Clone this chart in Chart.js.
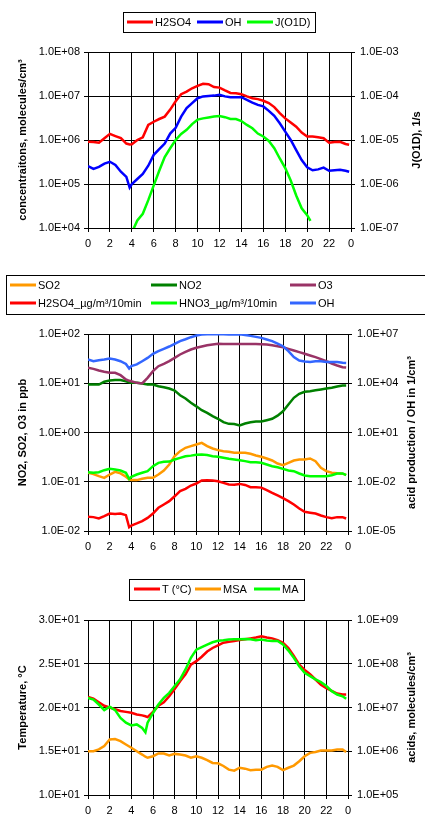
<!DOCTYPE html>
<html>
<head>
<meta charset="utf-8">
<script src="https://cdn.jsdelivr.net/npm/chart.js@4.4.1/dist/chart.umd.min.js"></script>
<style>
  html, body { margin: 0; padding: 0; background: #fff; }
  body { width: 425px; height: 816px; position: relative; overflow: hidden; }
  .panel { position: absolute; left: 0; width: 425px; }
</style>
</head>
<body>
<div class="panel" style="top:0;height:258px"><canvas id="c1"></canvas></div>
<div class="panel" style="top:262px;height:298px"><canvas id="c2"></canvas></div>
<div class="panel" style="top:565px;height:251px"><canvas id="c3"></canvas></div>
<script>
// time of day (hours), 30 min steps plus a few extra points
const hoursA = [0, 0.5, 1, 1.5, 2, 2.5, 3, 3.5, 3.8, 4,
  4.5, 5, 5.5, 6, 6.5, 7, 7.5, 8, 8.5, 9,
  9.5, 10, 10.5, 11, 11.5, 12, 12.5, 13, 13.5, 14,
  14.5, 15, 15.5, 16, 16.5, 17, 17.5, 18, 18.5, 19,
  19.5, 20, 20.5, 21, 21.5, 22, 22.5, 23, 23.5, 23.83];
const hoursB = [0, 0.5, 1, 1.5, 2, 2.5, 3, 3.5, 4, 4.5,
  5, 5.3, 5.5, 6, 6.5, 7, 7.5, 8, 8.5, 9,
  9.5, 10, 10.5, 11, 11.5, 12, 12.5, 13, 13.5, 14,
  14.5, 15, 15.5, 16, 16.5, 17, 17.5, 18, 18.5, 19,
  19.5, 20, 20.5, 21, 21.5, 22, 22.5, 23, 23.5, 23.83];
const jHours = [4.15, 4.5, 5, 5.5, 6, 6.5, 7, 7.5, 8, 8.5,
  9, 9.5, 10, 10.5, 11, 11.5, 12, 12.5, 13, 13.5,
  14, 14.5, 15, 15.5, 16, 16.5, 17, 17.5, 18, 18.5,
  19, 19.5, 20, 20.3];
const hourLabels = ['0', '2', '4', '6', '8', '10', '12', '14', '16', '18', '20', '22', '0'];

// top chart: molecules/cm3 and J(O1D) in 1/s
const p1H2SO4 = [9.1e5, 9.0e5, 8.7e5, 1.1e6, 1.38e6, 1.23e6, 1.1e6, 8.3e5, 7.9e5, 8.0e5,
  1.0e6, 1.15e6, 2.2e6, 2.6e6, 3.0e6, 3.4e6, 4.9e6, 7.6e6, 1.1e7, 1.26e7,
  1.5e7, 1.7e7, 1.9e7, 1.85e7, 1.6e7, 1.55e7, 1.34e7, 1.17e7, 1.15e7, 1.1e7,
  9.8e6, 8.9e6, 8.5e6, 7.8e6, 6.9e6, 5.6e6, 4.1e6, 3.1e6, 2.5e6, 2.0e6,
  1.47e6, 1.2e6, 1.2e6, 1.15e6, 1.1e6, 8.7e5, 9.0e5, 9.1e5, 8.1e5, 7.8e5];
const p1OH = [2.55e5, 2.2e5, 2.45e5, 2.9e5, 3.2e5, 2.7e5, 1.9e5, 1.45e5, 8.3e4, 1.0e5,
  1.3e5, 1.7e5, 2.6e5, 4.6e5, 6.2e5, 8.3e5, 1.4e6, 1.9e6, 3.4e6, 5.3e6,
  6.9e6, 8.9e6, 9.8e6, 1.0e7, 1.02e7, 1.07e7, 9.8e6, 9.4e6, 9.4e6, 9.4e6,
  8.2e6, 7.1e6, 6.3e6, 5.8e6, 4.6e6, 3.55e6, 2.4e6, 1.55e6, 1.0e6, 5.9e5,
  3.5e5, 2.4e5, 2.05e5, 2.15e5, 2.35e5, 2.0e5, 2.05e5, 2.1e5, 2.0e5, 1.9e5];
const p1JO1D = [9.5e-8, 1.48e-7, 2.1e-7, 4.3e-7, 9.3e-7, 2.0e-6, 4.1e-6, 6.5e-6, 1.0e-5, 1.37e-5,
  1.7e-5, 2.3e-5, 2.9e-5, 3.1e-5, 3.25e-5, 3.4e-5, 3.5e-5, 3.3e-5, 3.0e-5, 3.0e-5,
  2.7e-5, 2.2e-5, 1.85e-5, 1.4e-5, 1.2e-5, 9.5e-6, 6.5e-6, 3.8e-6, 2.3e-6, 1.2e-6,
  5.5e-7, 2.8e-7, 1.95e-7, 1.45e-7];

// middle chart: trace gases in ppb, acid production and OH in 1/cm3
const p2SO2 = [0.152, 0.143, 0.130, 0.120, 0.140, 0.159, 0.148, 0.126, 0.112, 0.108,
  0.108, 0.115, 0.120, 0.120, 0.140, 0.169, 0.224, 0.331, 0.418, 0.489,
  0.528, 0.571, 0.617, 0.528, 0.473, 0.438, 0.418, 0.405, 0.387, 0.387,
  0.387, 0.369, 0.341, 0.321, 0.297, 0.270, 0.235, 0.217, 0.242, 0.270,
  0.283, 0.283, 0.297, 0.262, 0.192, 0.164, 0.152, 0.148, 0.146, 0.138];
const p2NO2 = [9.4, 9.4, 9.4, 10.7, 11.4, 11.6, 11.6, 11.0, 10.5, 10.2,
  10.2, 9.9, 9.4, 9.4, 8.7, 8.3, 7.8, 7.1, 5.7, 4.9,
  4.0, 3.4, 2.84, 2.5, 2.15, 1.9, 1.62, 1.5, 1.48, 1.39,
  1.52, 1.62, 1.67, 1.67, 1.78, 1.9, 2.2, 2.7, 3.7, 5.06,
  6.1, 6.7, 6.9, 7.2, 7.5, 7.8, 8.1, 8.6, 9.0, 9.0];
const p2O3 = [20.6, 19.6, 18.1, 17.1, 16.3, 16.3, 14.6, 11.9, 11.2, 11.0,
  10.2, 9.9, 12.9, 17.6, 22.2, 24.8, 28.1, 32.8, 38.4, 43.4,
  48.4, 52.4, 55.8, 59.3, 61.2, 63.1, 63.0, 63.0, 63.0, 63.0,
  63.0, 63.0, 63.0, 62.0, 61.0, 59.0, 56.6, 54.0, 50.0, 46.2,
  42.8, 39.6, 36.6, 33.9, 30.8, 28.1, 25.2, 22.9, 21.2, 20.9];
const p2H2SO4 = [7.3e-5, 7.0e-5, 5.8e-5, 8.0e-5, 1.16e-4, 1.1e-4, 1.16e-4, 9.2e-5, 1.7e-5, 2.16e-5,
  2.9e-5, 4.0e-5, 6.3e-5, 1.16e-4, 2.6e-4, 4.1e-4, 6.6e-4, 1.3e-3, 2.7e-3, 3.7e-3,
  5.9e-3, 7.8e-3, 0.0119, 0.0125, 0.0119, 0.0108, 8.6e-3, 6.8e-3, 6.6e-3, 7.4e-3,
  6.4e-3, 4.7e-3, 4.7e-3, 4.4e-3, 3.1e-3, 2.1e-3, 1.46e-3, 1.0e-3, 6.6e-4, 4.1e-4,
  2.35e-4, 1.47e-4, 1.3e-4, 1.16e-4, 8.8e-5, 7.0e-5, 6.0e-5, 7.0e-5, 7.0e-5, 5.8e-5];
const p2HNO3 = [0.0384, 0.0349, 0.0384, 0.0507, 0.0612, 0.056, 0.048, 0.035, 0.015, 0.02,
  0.0277, 0.035, 0.044, 0.089, 0.142, 0.163, 0.17, 0.227, 0.286, 0.361,
  0.39, 0.436, 0.45, 0.42, 0.361, 0.33, 0.286, 0.249, 0.227, 0.206,
  0.18, 0.156, 0.156, 0.142, 0.112, 0.089, 0.077, 0.061, 0.048, 0.044,
  0.0318, 0.024, 0.0219, 0.022, 0.022, 0.022, 0.025, 0.032, 0.032, 0.025];
const p2OH = [2.8e5, 2.2e5, 2.55e5, 2.8e5, 3.2e5, 2.8e5, 2.2e5, 1.5e5, 7.9e4, 1.1e5,
  1.4e5, 2.2e5, 3.5e5, 6.2e5, 9.0e5, 1.25e6, 1.73e6, 2.5e6, 3.7e6, 4.8e6,
  6.4e6, 8.1e6, 9.3e6, 9.6e6, 9.7e6, 9.7e6, 9.6e6, 9.3e6, 9.4e6, 9.5e6,
  8.8e6, 7.7e6, 6.7e6, 5.8e6, 4.6e6, 3.7e6, 2.6e6, 1.8e6, 9.0e5, 3.9e5,
  2.4e5, 2.1e5, 2.0e5, 2.2e5, 2.2e5, 2.0e5, 1.95e5, 1.95e5, 1.75e5, 1.7e5];

// bottom chart: temperature and acids
const p3T = [21.2, 21.0, 20.6, 20.2, 20.0, 19.8, 19.6, 19.5, 19.4, 19.2,
  19.1, 19.0, 18.9, 19.5, 20.2, 20.6, 21.3, 22.1, 23.0, 23.8,
  24.9, 25.3, 25.8, 26.4, 26.8, 27.1, 27.4, 27.5, 27.6, 27.7,
  27.8, 27.9, 28.0, 28.15, 28.0, 27.9, 27.7, 27.4, 26.8, 25.9,
  24.9, 24.3, 23.8, 23.2, 22.6, 22.2, 21.9, 21.6, 21.5, 21.5];
const p3MSA = [1.0e6, 1.0e6, 1.1e6, 1.31e6, 1.86e6, 1.9e6, 1.7e6, 1.43e6, 1.2e6, 1.0e6,
  8.4e5, 7.5e5, 7.1e5, 7.7e5, 8.9e5, 8.9e5, 8.0e5, 8.7e5, 8.4e5, 8.0e5,
  7.1e5, 7.7e5, 7.1e5, 6.3e5, 5.4e5, 5.3e5, 4.6e5, 3.8e5, 3.6e5, 4.2e5,
  4.0e5, 3.7e5, 3.8e5, 3.8e5, 4.4e5, 4.7e5, 4.4e5, 3.7e5, 4.2e5, 4.7e5,
  5.9e5, 7.7e5, 9.2e5, 9.6e5, 1.04e6, 1.04e6, 1.04e6, 1.1e6, 1.1e6, 9.6e5];
const p3MA = [1.66e7, 1.52e7, 1.17e7, 8.7e6, 1.04e7, 8.7e6, 5.8e6, 4.5e6, 3.9e6, 4.1e6,
  3.4e6, 2.7e6, 4.5e6, 7.5e6, 1.17e7, 1.66e7, 2.16e7, 3.1e7, 4.4e7, 7.4e7,
  1.37e8, 2.1e8, 2.4e8, 2.75e8, 3.1e8, 3.35e8, 3.45e8, 3.6e8, 3.65e8, 3.65e8,
  3.7e8, 3.65e8, 3.45e8, 3.6e8, 3.4e8, 3.3e8, 3.3e8, 2.75e8, 2.0e8, 1.37e8,
  8.8e7, 6.2e7, 5.2e7, 4.4e7, 3.8e7, 3.1e7, 2.36e7, 1.98e7, 1.8e7, 1.58e7];

// axis ticks
const p1LeftTicks = [1e4, 1e5, 1e6, 1e7, 1e8];
const p1RightTicks = [1e-7, 1e-6, 1e-5, 1e-4, 1e-3];
const p2LeftTicks = [1e-2, 1e-1, 1, 10, 100];
const p2RightTicks = [1e-5, 1e-2, 1e1, 1e4, 1e7];
const p3LeftTicks = [10, 15, 20, 25, 30];
const p3RightTicks = [1e5, 1e6, 1e7, 1e8, 1e9];

const FONT = '"Liberation Sans", Arial, sans-serif';
Chart.defaults.font.family = FONT;
Chart.defaults.font.size = 11;
Chart.defaults.color = '#000';

// 1.0E+08 style labels
function sci(v) {
  const e = Math.floor(Math.log10(v) + 1e-9);
  const m = v / Math.pow(10, e);
  return m.toFixed(1) + 'E' + (e < 0 ? '-' : '+') + String(Math.abs(e)).padStart(2, '0');
}

function series(label, hours, values, color, axis) {
  return {
    label: label,
    yAxisID: axis,
    borderColor: color,
    backgroundColor: color,
    data: hours.map((h, i) => ({ x: h, y: values[i] })),
    borderWidth: 2.5,
    pointRadius: 0,
    tension: 0,
    fill: false
  };
}

// excel-like legend (framed box with line samples) and the right axis title,
// which reads bottom-to-top like the left one
const boxLegend = {
  id: 'boxLegend',
  afterDraw(chart, args, o) {
    const ctx = chart.ctx;
    ctx.save();
    ctx.lineWidth = 1;
    ctx.strokeStyle = '#000';
    ctx.strokeRect(o.box[0] + 0.5, o.box[1] + 0.5, o.box[2], o.box[3]);
    ctx.font = '11px ' + FONT;
    ctx.textBaseline = 'middle';
    ctx.fillStyle = '#000';
    chart.data.datasets.forEach((ds, i) => {
      const x = o.items[i][0], y = o.items[i][1];
      ctx.strokeStyle = ds.borderColor;
      ctx.lineWidth = 3;
      ctx.beginPath();
      ctx.moveTo(x, y);
      ctx.lineTo(x + 26, y);
      ctx.stroke();
      ctx.fillText(ds.label, x + 28, y + 0.5);
    });

    const area = chart.chartArea;
    ctx.translate(o.rightTitleX, (area.top + area.bottom) / 2);
    ctx.rotate(-Math.PI / 2);
    ctx.font = 'bold 11px ' + FONT;
    ctx.textAlign = 'center';
    ctx.fillText(o.rightTitle, 0, 0);
    ctx.restore();
  }
};

function buildChart(id, cfg) {
  const sets = cfg.datasets.map((d, i) => Object.assign(d, { order: -i }));
  const grid = { color: '#000', lineWidth: 1, tickLength: 4, tickColor: '#000' };
  const border = { display: true, color: '#000', width: 1 };
  return new Chart(document.getElementById(id), {
    type: 'line',
    data: { datasets: sets },
    plugins: [boxLegend],
    options: {
      animation: false,
      responsive: true,
      maintainAspectRatio: false,
      devicePixelRatio: 1,
      events: [],
      layout: { padding: { top: cfg.top, left: 0, right: 0, bottom: 0 } },
      plugins: {
        legend: { display: false },
        tooltip: { enabled: false },
        boxLegend: Object.assign({ rightTitle: cfg.rightTitle, rightTitleX: cfg.rightTitleX }, cfg.legend)
      },
      scales: {
        x: {
          type: 'linear', min: 0, max: 24,
          afterFit: s => { s.height = cfg.xHeight; },
          ticks: { stepSize: 2, padding: 5, maxRotation: 0, autoSkip: false,
            callback: (v, i) => hourLabels[i] },
          grid: grid,
          border: border
        },
        yL: {
          type: cfg.leftType, position: 'left',
          min: cfg.leftTicks[0], max: cfg.leftTicks[cfg.leftTicks.length - 1],
          afterBuildTicks: s => { s.ticks = cfg.leftTicks.map(v => ({ value: v })); },
          afterFit: s => { s.width = 88; },
          ticks: { padding: 4, callback: v => sci(v) },
          grid: grid,
          border: border,
          title: { display: true, text: cfg.leftTitle, font: { size: 11, weight: 'bold' },
            padding: { top: 16, bottom: 0 } }
        },
        yR: {
          type: 'logarithmic', position: 'right',
          min: cfg.rightTicks[0], max: cfg.rightTicks[cfg.rightTicks.length - 1],
          afterBuildTicks: s => { s.ticks = cfg.rightTicks.map(v => ({ value: v })); },
          afterFit: s => { s.width = cfg.rightWidth; },
          ticks: { padding: 5, callback: v => sci(v) },
          grid: { drawOnChartArea: false, tickLength: 4, tickColor: '#000', color: '#000' },
          border: border
        }
      }
    }
  });
}

buildChart('c1', {
  top: 52, xHeight: 30, rightWidth: 74, rightTitleX: 417,
  leftType: 'logarithmic', leftTicks: p1LeftTicks, rightTicks: p1RightTicks,
  leftTitle: 'concentraitons, molecules/cm³', rightTitle: 'J(O1D), 1/s',
  legend: { box: [123, 12, 192, 20], items: [[127, 22], [197, 22], [247, 22]] },
  datasets: [
    series('H2SO4', hoursA, p1H2SO4, '#FF0000', 'yL'),
    series('OH', hoursA, p1OH, '#0000FF', 'yL'),
    series('J(O1D)', jHours, p1JO1D, '#00FF00', 'yR')
  ]
});

buildChart('c2', {
  top: 72, xHeight: 29, rightWidth: 77, rightTitleX: 412,
  leftType: 'logarithmic', leftTicks: p2LeftTicks, rightTicks: p2RightTicks,
  leftTitle: 'NO2, SO2, O3 in ppb', rightTitle: 'acid production / OH in 1/cm³',
  legend: { box: [6, 13, 420, 39],
    items: [[10, 23], [151, 23], [290, 23], [10, 41], [151, 41], [290, 41]] },
  datasets: [
    series('SO2', hoursA, p2SO2, '#FF9900', 'yL'),
    series('NO2', hoursA, p2NO2, '#008000', 'yL'),
    series('O3', hoursA, p2O3, '#993366', 'yL'),
    series('H2SO4_µg/m³/10min', hoursA, p2H2SO4, '#FF0000', 'yR'),
    series('HNO3_µg/m³/10min', hoursA, p2HNO3, '#00FF00', 'yR'),
    series('OH', hoursA, p2OH, '#3366FF', 'yR')
  ]
});

buildChart('c3', {
  top: 55, xHeight: 21, rightWidth: 77, rightTitleX: 412,
  leftType: 'linear', leftTicks: p3LeftTicks, rightTicks: p3RightTicks,
  leftTitle: 'Temperature, °C', rightTitle: 'acids, molecules/cm³',
  legend: { box: [129, 14, 175, 21], items: [[134, 24], [195, 24], [254, 24]] },
  datasets: [
    series('T (°C)', hoursB, p3T, '#FF0000', 'yL'),
    series('MSA', hoursB, p3MSA, '#FF9900', 'yR'),
    series('MA', hoursB, p3MA, '#00FF00', 'yR')
  ]
});
</script>
</body>
</html>
